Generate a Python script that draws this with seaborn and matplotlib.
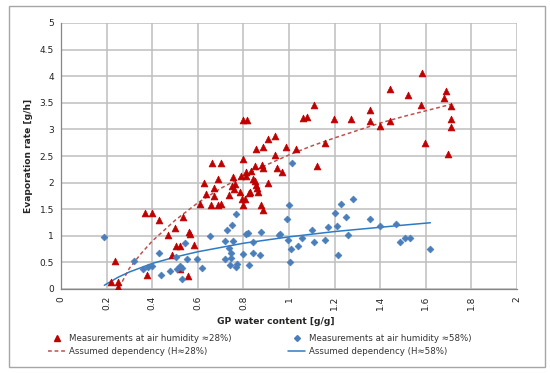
import numpy as np
import pandas as pd
import seaborn as sns
import matplotlib.pyplot as plt
from matplotlib.lines import Line2D
from matplotlib.patches import Rectangle

# measurements at air humidity ~28% (red triangles)
red_x = [0.22, 0.25, 0.25, 0.237, 0.37, 0.40, 0.43, 0.377, 0.47, 0.50, 0.506, 0.52,
         0.485, 0.52, 0.534, 0.563, 0.566, 0.583, 0.557, 0.61, 0.627, 0.636, 0.66,
         0.664, 0.67, 0.67, 0.69, 0.70, 0.69, 0.70, 0.735, 0.75, 0.754, 0.765, 0.76,
         0.785, 0.795, 0.807, 0.80, 0.80, 0.80, 0.814, 0.79, 0.81, 0.81, 0.835, 0.84,
         0.85, 0.825, 0.83, 0.855, 0.86, 0.865, 0.855, 0.887, 0.85, 0.88, 0.887,
         0.876, 0.885, 0.91, 0.91, 0.94, 0.94, 0.947, 0.97, 0.985, 1.03, 1.06, 1.08,
         1.11, 1.124, 1.16, 1.196, 1.27, 1.357, 1.357, 1.40, 1.443, 1.443, 1.52,
         1.585, 1.577, 1.595, 1.69, 1.68, 1.71, 1.71, 1.71, 1.696]
red_y = [0.13, 0.14, 0.03, 0.52, 1.42, 1.42, 1.29, 0.26, 1.02, 1.14, 0.80, 0.80,
         0.64, 0.37, 1.36, 1.08, 1.03, 0.82, 0.24, 1.59, 1.99, 1.79, 1.58,
         2.36, 1.89, 1.74, 1.58, 1.60, 2.07, 2.36, 1.77, 1.94, 2.10, 1.97, 1.88,
         1.82, 1.70, 1.70, 1.58, 2.44, 3.18, 3.18, 2.13, 2.13, 2.20, 2.22, 2.07,
         2.03, 1.80, 1.83, 1.95, 1.89, 1.83, 2.63, 2.66, 2.32, 2.34, 2.28,
         1.58, 1.48, 1.99, 2.82, 2.87, 2.52, 2.27, 2.19, 2.67, 2.63, 3.22, 3.24,
         3.45, 2.32, 2.74, 3.20, 3.20, 3.36, 3.15, 3.06, 3.76, 3.16, 3.65,
         4.06, 3.45, 2.75, 3.73, 3.59, 3.44, 3.19, 3.04, 2.54]

# measurements at air humidity ~58% (blue diamonds)
blue_x = [0.19, 0.32, 0.36, 0.38, 0.40, 0.43, 0.44, 0.477, 0.506, 0.51, 0.52, 0.53,
          0.53, 0.544, 0.554, 0.595, 0.62, 0.655, 0.72, 0.756, 0.73, 0.75, 0.766,
          0.81, 0.82, 0.876, 0.84, 0.735, 0.747, 0.797, 0.843, 0.873, 0.72, 0.747,
          0.766, 0.773, 0.74, 0.826, 0.956, 0.999, 0.99, 0.96, 0.997, 1.01, 1.004,
          1.04, 1.056, 1.10, 1.11, 1.16, 1.17, 1.21, 1.20, 1.23, 1.25, 1.28, 1.26,
          1.215, 1.355, 1.40, 1.47, 1.485, 1.51, 1.53, 1.62, 1.013]
blue_y = [0.98, 0.53, 0.37, 0.41, 0.44, 0.67, 0.26, 0.34, 0.61, 0.38, 0.43, 0.39,
          0.18, 0.86, 0.56, 0.56, 0.39, 1.00, 0.91, 0.91, 1.11, 1.20, 1.41,
          1.03, 1.05, 1.08, 0.89, 0.77, 0.68, 0.66, 0.68, 0.63, 0.56, 0.58,
          0.41, 0.47, 0.45, 0.45, 1.01, 1.57, 1.32, 1.03, 0.92, 0.76, 0.51,
          0.81, 0.95, 1.11, 0.89, 0.92, 1.16, 1.19, 1.42, 1.60, 1.36, 1.69, 1.02,
          0.63, 1.31, 1.19, 1.23, 0.88, 0.96, 0.96, 0.76, 2.36]

# assumed dependency curves
red_curve_x = [0.255, 0.3, 0.35, 0.4, 0.5, 0.6, 0.7, 0.8, 0.9, 1.0, 1.1, 1.2, 1.3,
               1.4, 1.5, 1.6, 1.71]
red_curve_y = [0.03, 0.39, 0.66, 0.90, 1.29, 1.62, 1.89, 2.12, 2.33, 2.52, 2.69,
               2.84, 2.98, 3.12, 3.24, 3.35, 3.47]
blue_curve_x = [0.19, 0.25, 0.3, 0.4, 0.5, 0.6, 0.7, 0.8, 0.9, 1.0, 1.1, 1.2, 1.3,
                1.4, 1.5, 1.62]
blue_curve_y = [0.07, 0.22, 0.32, 0.48, 0.60, 0.70, 0.78, 0.86, 0.92, 0.98, 1.03,
                1.08, 1.12, 1.16, 1.20, 1.245]

x_ticks = [0, 0.2, 0.4, 0.6, 0.8, 1.0, 1.2, 1.4, 1.6, 1.8, 2.0]
x_tick_labels = ["0", "0.2", "0.4", "0.6", "0.8", "1", "1.2", "1.4", "1.6", "1.8", "2"]
y_ticks = [0, 0.5, 1, 1.5, 2, 2.5, 3, 3.5, 4, 4.5, 5]
y_tick_labels = ["0", "0.5", "1", "1.5", "2", "2.5", "3", "3.5", "4", "4.5", "5"]

labels = ["Measurements at air humidity \u224828%)",
          "Assumed dependency (H\u224828%)",
          "Measurements at air humidity \u224858%)",
          "Assumed dependency (H\u224858%)"]

red = "#C00000"
red_line = "#C0504D"
blue = "#4A7EBB"
blue_line = "#2E7BC4"
grid_col = "#BEBEBE"

sns.set_style("white")
plt.rcParams["font.family"] = ["DejaVu Sans"]

fig = plt.figure(figsize=(5.5, 3.73), dpi=100)
ax = fig.add_axes([61 / 550, 1 - 289 / 373, 456 / 550, 266 / 373])

sns.scatterplot(x=red_x, y=red_y, marker="^", s=24, color=red, edgecolor=red,
                linewidth=0.5, ax=ax, zorder=3)
sns.scatterplot(x=blue_x, y=blue_y, marker="D", s=12, color=blue, edgecolor=blue,
                linewidth=0.5, ax=ax, zorder=3)
ax.plot(red_curve_x, red_curve_y, color=red_line, linestyle=(0, (2.5, 1.8)), linewidth=1.1, zorder=2)
ax.plot(blue_curve_x, blue_curve_y, color=blue_line, linewidth=1.1, zorder=2)

ax.set_xlim(0, 2)
ax.set_ylim(0, 5)
ax.set_xticks(x_ticks)
ax.set_xticklabels(x_tick_labels, rotation=90, fontsize=6.5)
ax.set_yticks(y_ticks)
ax.set_yticklabels(y_tick_labels, fontsize=6.5)
ax.tick_params(axis="both", length=3, width=0.8, color="#868686", pad=2, labelcolor="#222222")
ax.grid(True, color=grid_col, linewidth=1.1)
ax.set_axisbelow(True)
for side in ["top", "right"]:
    ax.spines[side].set_visible(False)
for side in ["left", "bottom"]:
    ax.spines[side].set_color("#868686")
    ax.spines[side].set_linewidth(0.9)

ax.set_xlabel("GP water content [g/g]", fontsize=6.6, fontweight="bold")
ax.set_ylabel("Evaporation rate [g/h]", fontsize=6.6, fontweight="bold")
ax.xaxis.set_label_coords((276 - 61) / 456, -0.105)
ax.yaxis.set_label_coords(-0.062, 0.5)

handles = [
    Line2D([], [], marker="^", color=red, linestyle="none", markersize=4),
    Line2D([], [], color=red_line, linestyle=(0, (2.5, 1.8)), linewidth=1.1),
    Line2D([], [], marker="D", color=blue, linestyle="none", markersize=3),
    Line2D([], [], color=blue_line, linewidth=1.1),
]
fig.legend(handles, labels, ncol=2, loc="center", bbox_to_anchor=(260 / 550, 1 - 345 / 373),
           frameon=False, fontsize=6.2, handlelength=1.9, handletextpad=0.5,
           columnspacing=6.6, labelspacing=0.45, labelcolor="#333333")

fig.patches.append(Rectangle((9 / 550, 6 / 373), 536 / 550, 361 / 373, transform=fig.transFigure,
                             fill=False, edgecolor="#A6A6A6", linewidth=1.0))

fig.savefig("out.png", dpi=100)
